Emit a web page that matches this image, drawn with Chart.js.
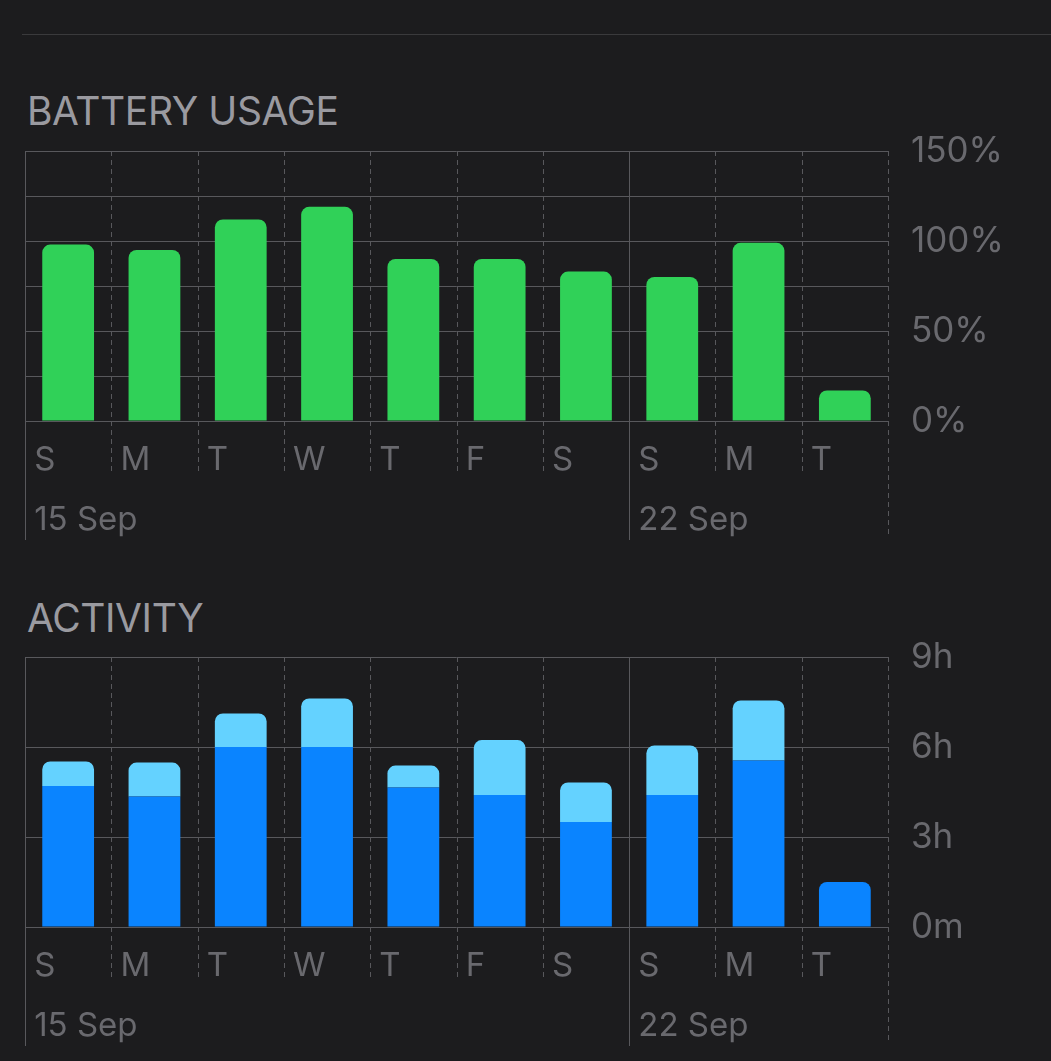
<!DOCTYPE html>
<html>
<head>
<meta charset="utf-8">
<script src="https://cdn.jsdelivr.net/npm/chart.js@4"></script>
<style>
  html, body { margin: 0; padding: 0; background: #1c1c1e; }
  body { width: 1051px; height: 1061px; overflow: hidden; position: relative; font-family: Inter, sans-serif; }
  .rule { position: absolute; top: 34px; left: 22px; right: 0; height: 1px; background: #3a3a3c; }
  .title { position: absolute; left: 27px; font-size: 39px; line-height: 39px; color: #9a9aa0; letter-spacing: -0.4px; }
  .box { position: absolute; left: 0; width: 1051px; height: 420px; }
</style>
</head>
<body>
<div class="rule"></div>
<div class="title" style="top: 91px;">BATTERY USAGE</div>
<div class="box" style="top: 130px;"><canvas id="battery"></canvas></div>
<div class="title" style="top: 598px;">ACTIVITY</div>
<div class="box" style="top: 636px;"><canvas id="activity"></canvas></div>

<script>
const days = ['S', 'M', 'T', 'W', 'T', 'F', 'S', 'S', 'M', 'T'];
const weeks = ['15 Sep', '', '', '', '', '', '', '22 Sep', '', ''];

// battery used per day, %
const battery = [98, 95, 112, 119, 90, 90, 83, 80, 99, 17];

// activity per day, hours
const screenOn = [4.7, 4.35, 6.0, 6.0, 4.65, 4.4, 3.5, 4.4, 5.55, 1.5];
const screenOff = [0.82, 1.13, 1.12, 1.62, 0.73, 1.83, 1.32, 1.65, 2.0, 0];

const batteryTicks = { 0: '0%', 50: '50%', 100: '100%', 150: '150%' };
const activityTicks = { 0: '0m', 3: '3h', 6: '6h', 9: '9h' };

const gridColor = '#58585c';
const labelColor = '#69696e';
const font = 'Inter';

// vertical separators: solid at week starts, dashed between days
const dividers = {
  id: 'dividers',
  beforeDatasetsDraw(chart) {
    const { ctx, chartArea, scales: { x } } = chart;
    const step = x.width / days.length;
    ctx.save();
    ctx.strokeStyle = gridColor;
    ctx.lineWidth = 1;
    for (let i = 0; i <= days.length; i++) {
      const px = Math.round(x.left + i * step) + 0.5;
      const solid = i < days.length && weeks[i] !== '';
      const end = chartArea.bottom + (solid ? 119 : i === days.length ? 114 : 54);
      ctx.setLineDash(solid ? [] : [5, 4]);
      ctx.beginPath();
      ctx.moveTo(px, chartArea.top);
      ctx.lineTo(px, end);
      ctx.stroke();
    }
    ctx.restore();
  }
};

function baseOptions(max, step, tickMap) {
  return {
    responsive: true,
    maintainAspectRatio: false,
    animation: false,
    layout: { padding: { top: 21, left: 25, right: 0, bottom: 0 } },
    plugins: { legend: { display: false }, tooltip: { enabled: false } },
    scales: {
      x: {
        stacked: true,
        grid: { display: false },
        border: { display: false },
        afterFit: (scale) => { scale.height = 129; },
        ticks: {
          autoSkip: false,
          maxRotation: 0,
          minRotation: 0,
          align: 'start',
          labelOffset: -34,
          padding: 1,
          color: labelColor,
          font: { family: font, size: 33, lineHeight: '60px' },
          callback: (v, i) => [days[i], weeks[i]],
        },
      },
      y: {
        stacked: true,
        position: 'right',
        min: 0,
        max: max,
        afterFit: (scale) => {
          scale.width = 163;
          scale.paddingTop = 0;
          scale.paddingBottom = 0;
        },
        afterBuildTicks: (scale) => {
          const t = [];
          for (let v = 0; v <= max; v += step) t.push({ value: v });
          scale.ticks = t;
        },
        grid: { color: gridColor, lineWidth: 1, drawTicks: false },
        border: { display: false },
        ticks: {
          autoSkip: false,
          padding: 23,
          color: labelColor,
          font: { family: font, size: 35, lineHeight: 1.2 },
          callback: (v) => tickMap[v] || '',
        },
      },
    },
  };
}

new Chart(document.getElementById('battery'), {
  type: 'bar',
  data: {
    labels: days,
    datasets: [{
      data: battery,
      backgroundColor: '#30d158',
      borderRadius: 8,
      barPercentage: 0.6,
      categoryPercentage: 1,
    }],
  },
  options: baseOptions(150, 25, batteryTicks),
  plugins: [dividers],
});

new Chart(document.getElementById('activity'), {
  type: 'bar',
  data: {
    labels: days,
    datasets: [{
      data: screenOn,
      backgroundColor: '#0a84ff',
      borderRadius: (c) => (screenOff[c.dataIndex] > 0 ? 0 : 8),
      barPercentage: 0.6,
      categoryPercentage: 1,
    }, {
      data: screenOff,
      backgroundColor: '#64d2ff',
      borderRadius: 8,
      barPercentage: 0.6,
      categoryPercentage: 1,
    }],
  },
  options: baseOptions(9, 3, activityTicks),
  plugins: [dividers],
});
</script>
</body>
</html>
